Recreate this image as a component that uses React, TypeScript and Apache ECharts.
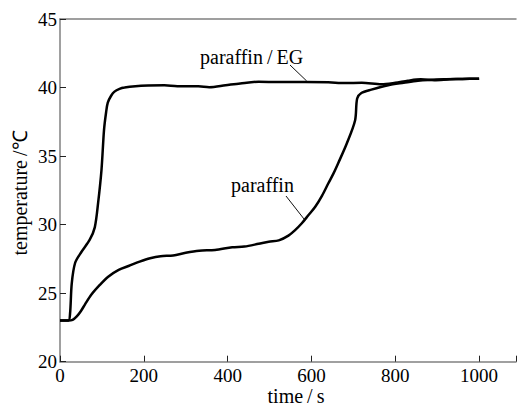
import React, { useEffect, useRef } from "react";
import * as echarts from "echarts";

const xTicks = [0, 200, 400, 600, 800, 1000];
const yTicks = [20, 25, 30, 35, 40, 45];

const timeEG = [0, 20, 24, 28, 36, 51, 71, 83, 91, 99, 105, 110, 114, 122, 130, 142, 154, 180, 210, 249, 280, 301, 330, 356, 395, 430, 474, 522, 585, 640, 680, 720, 767, 800, 830, 861, 893, 930, 960, 1000];
const tempEG = [23.0, 23.0, 23.5, 25.7, 27.2, 28.0, 28.9, 29.8, 31.6, 34.0, 36.9, 38.2, 38.9, 39.4, 39.7, 39.9, 40.0, 40.1, 40.15, 40.17, 40.1, 40.1, 40.1, 40.03, 40.17, 40.3, 40.42, 40.4, 40.4, 40.38, 40.33, 40.35, 40.24, 40.35, 40.5, 40.6, 40.54, 40.6, 40.62, 40.65];

const timeP = [0, 20, 30, 40, 50, 60, 75, 95, 115, 140, 165, 190, 215, 240, 270, 300, 332, 370, 411, 440, 474, 498, 522, 545, 561, 577, 593, 609, 625, 640, 652, 664, 684, 704, 709, 719, 743, 783, 820, 854, 917, 960, 1000];
const tempP = [23.0, 23.0, 23.05, 23.3, 23.7, 24.2, 24.9, 25.6, 26.2, 26.7, 27.0, 27.3, 27.55, 27.7, 27.75, 27.95, 28.1, 28.15, 28.35, 28.4, 28.6, 28.75, 28.85, 29.2, 29.6, 30.1, 30.7, 31.3, 32.1, 33.0, 33.7, 34.5, 35.9, 37.6, 39.2, 39.6, 39.85, 40.17, 40.35, 40.5, 40.6, 40.62, 40.65];

const seriesNames = ["paraffin/EG", "paraffin"];
const xName = "time\u2009/\u2009s";
const yName = "temperature\u2009/\u2103";

const FONT = "Liberation Serif";

export default function App() {
  const ref = useRef<HTMLDivElement>(null);
  useEffect(() => {
    if (!ref.current) return;
    const chart = echarts.init(ref.current, undefined, { renderer: "svg" });
    const eg = timeEG.map((t, i) => [t, tempEG[i]]);
    const p = timeP.map((t, i) => [t, tempP[i]]);
    const txt = (text: string, x: number, y: number, align: string, size: number, rot = 0) => ({
      type: "text",
      x,
      y,
      rotation: rot,
      style: {
        text,
        fill: "#000",
        fontFamily: FONT,
        fontSize: size,
        align,
        verticalAlign: "middle",
      },
    });
    chart.setOption({
      animation: false,
      backgroundColor: "#ffffff",
      grid: { left: 60, top: 19, bottom: 45.3, right: 0, containLabel: false },
      xAxis: [
        {
          type: "value",
          min: 0,
          max: 1088,
          interval: 200,
          axisLine: { show: true, lineStyle: { color: "#808080", width: 1.5 } },
          axisTick: { show: true, inside: true, length: 6, lineStyle: { color: "#222", width: 1 } },
          axisLabel: {
            color: "#000",
            fontFamily: FONT,
            fontSize: 19,
            margin: 4,
            formatter: (v: number) => (xTicks.includes(v) ? String(v) : ""),
          },
          splitLine: { show: false },
        },
        {
          type: "value",
          position: "top",
          min: 0,
          max: 1088,
          axisLine: { show: true, lineStyle: { color: "#808080", width: 1.5 } },
          axisTick: { show: false },
          axisLabel: { show: false },
          splitLine: { show: false },
        },
      ],
      yAxis: {
        type: "value",
        min: 20,
        max: 45,
        interval: 5,
        axisLine: { show: true, lineStyle: { color: "#808080", width: 1.5 } },
        axisTick: { show: true, inside: true, length: 6, lineStyle: { color: "#222", width: 1 } },
        axisLabel: {
          color: "#000",
          fontFamily: FONT,
          fontSize: 19,
          margin: 3,
          formatter: (v: number) => (yTicks.includes(v) ? String(v) : ""),
        },
        splitLine: { show: false },
      },
      series: [
        {
          name: seriesNames[0],
          type: "line",
          data: eg,
          showSymbol: false,
          smooth: 0.3,
          lineStyle: { color: "#000", width: 2.5 },
        },
        {
          name: seriesNames[1],
          type: "line",
          data: p,
          showSymbol: false,
          smooth: 0.3,
          lineStyle: { color: "#000", width: 2.5 },
        },
      ],
      graphic: [
        txt("paraffin\u2009/\u2009EG", 200, 57, "left", 20),
        {
          type: "line",
          shape: { x1: 290, y1: 65, x2: 306.7, y2: 81 },
          style: { stroke: "#111", lineWidth: 1 },
        },
        txt("paraffin", 231, 185, "left", 20),
        {
          type: "line",
          shape: { x1: 286, y1: 196, x2: 304, y2: 219 },
          style: { stroke: "#111", lineWidth: 1 },
        },
        txt(xName, 296, 396, "center", 20),
        txt(yName, 20, 193, "center", 20, Math.PI / 2),
      ],
    });
    return () => chart.dispose();
  }, []);
  return (
    <div
      ref={ref}
      style={{ position: "fixed", left: 0, top: 0, width: 519, height: 407, background: "#fff" }}
    />
  );
}
